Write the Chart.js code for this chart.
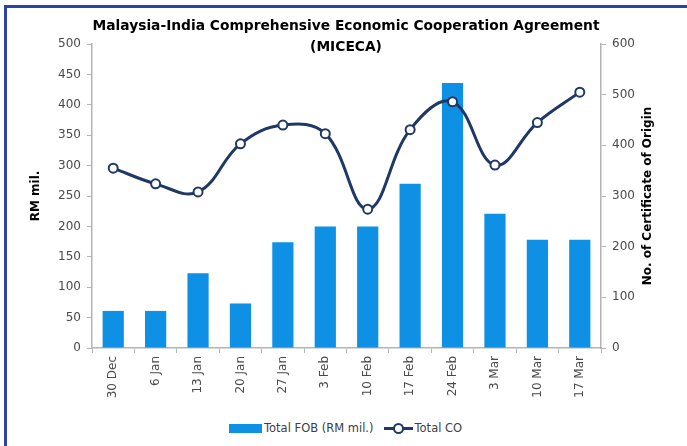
<!DOCTYPE html>
<html lang="en">
<head>
    <meta charset="UTF-8">
    <title>MICECA</title>
    <style>
        body {
            margin: 0;
            background: #fff;
            font-family: "DejaVu Sans", sans-serif;
        }
        .wrap {
            position: relative;
            width: 687px;
            height: 446px;
            overflow: hidden;
        }
        .frame {
            position: absolute;
            left: 4px;
            top: 5px;
            width: 700px;
            height: 460px;
            border-left: 3px solid #2a44a0;
            border-top: 3px solid #2a44a0;
            pointer-events: none;
        }
        #chart {
            position: absolute;
            left: 0;
            top: 0;
        }
        .legend {
            position: absolute;
            left: 229px;
            top: 421px;
            display: flex;
            align-items: center;
            font-size: 11.5px;
            color: #404040;
        }
        .legend .box {
            width: 33px;
            height: 9px;
            background: #0e90e4;
            margin-right: 2px;
        }
        .legend .line {
            position: relative;
            width: 29px;
            height: 3px;
            background: #1f3864;
            margin-left: 10px;
            margin-right: 2px;
        }
        .legend .line span {
            position: absolute;
            left: 9px;
            top: -4px;
            width: 7px;
            height: 7px;
            border: 2px solid #1f3864;
            border-radius: 50%;
            background: #fff;
        }
    </style>
    <script src="https://cdn.jsdelivr.net/npm/chart.js"></script>
</head>
<body>
    <div class="wrap">
        <canvas id="chart" width="687" height="412"></canvas>
        <div class="legend">
            <div class="box"></div><div>Total FOB (RM mil.)</div>
            <div class="line"><span></span></div><div>Total CO</div>
        </div>
        <div class="frame"></div>
    </div>

    <script>
        // data
        const weeks = ['30 Dec', '6 Jan', '13 Jan', '20 Jan', '27 Jan', '3 Feb', '10 Feb', '17 Feb', '24 Feb', '3 Mar', '10 Mar', '17 Mar'];
        const totalFob = [61, 61, 123, 73, 174, 200, 200, 270, 436, 221, 178, 178];
        const totalCo = [355, 324, 308, 403, 440, 423, 274, 431, 486, 361, 445, 505];
        const titleLines = ['Malaysia-India Comprehensive Economic Cooperation Agreement', '(MICECA)'];
        const leftTitle = 'RM mil.';
        const rightTitle = 'No. of Certificate of Origin';

        const tickFont = { family: 'DejaVu Sans', size: 12 };
        const tickColor = '#4a4a4a';
        const axisGrey = '#b4b4b4';

        // title + axis titles drawn by hand so they sit where the original has them
        const textPlugin = {
            id: 'texts',
            afterDraw(chart) {
                const ctx = chart.ctx;
                const area = chart.chartArea;
                ctx.save();
                ctx.fillStyle = '#000';
                ctx.textAlign = 'center';
                ctx.textBaseline = 'middle';
                ctx.font = 'bold 13.8px "DejaVu Sans"';
                ctx.fillText(titleLines[0], 346, 26);
                ctx.fillText(titleLines[1], 346, 47);

                const midY = (area.top + area.bottom) / 2;
                ctx.font = 'bold 12px "DejaVu Sans"';
                ctx.save();
                ctx.translate(36, midY);
                ctx.rotate(-Math.PI / 2);
                ctx.fillText(leftTitle, 0, 0);
                ctx.restore();

                ctx.save();
                ctx.translate(648, midY);
                ctx.rotate(-Math.PI / 2);
                ctx.fillText(rightTitle, 0, 0);
                ctx.restore();
                ctx.restore();
            }
        };

        const ctx = document.getElementById('chart').getContext('2d');
        new Chart(ctx, {
            type: 'bar',
            data: {
                labels: weeks,
                datasets: [{
                    type: 'line',
                    label: 'Total CO',
                    data: totalCo,
                    yAxisID: 'y1',
                    borderColor: '#1f3864',
                    borderWidth: 3,
                    tension: 0.4,
                    pointRadius: 4.5,
                    pointBorderWidth: 2,
                    pointBackgroundColor: '#fff',
                    pointBorderColor: '#1f3864',
                    order: 0
                }, {
                    label: 'Total FOB (RM mil.)',
                    data: totalFob,
                    yAxisID: 'y',
                    backgroundColor: '#0e90e4',
                    barPercentage: 0.5,
                    categoryPercentage: 1,
                    order: 1
                }]
            },
            options: {
                responsive: false,
                animation: false,
                layout: {
                    padding: { top: 44, left: 0, right: 0, bottom: 0 }
                },
                plugins: {
                    legend: { display: false },
                    title: { display: false },
                    tooltip: { enabled: false }
                },
                scales: {
                    x: {
                        afterFit: function(scale) { scale.height = 64; },
                        grid: {
                            drawOnChartArea: false,
                            drawTicks: true,
                            tickLength: 5,
                            color: axisGrey
                        },
                        border: { color: axisGrey, width: 1.5 },
                        ticks: {
                            autoSkip: false,
                            minRotation: 90,
                            maxRotation: 90,
                            color: tickColor,
                            font: tickFont
                        }
                    },
                    y: {
                        position: 'left',
                        min: 0,
                        max: 500,
                        afterFit: function(scale) { scale.width = 92; },
                        grid: {
                            drawOnChartArea: false,
                            tickLength: 5,
                            color: axisGrey
                        },
                        border: { color: axisGrey, width: 1.5 },
                        ticks: {
                            stepSize: 50,
                            padding: 6,
                            color: tickColor,
                            font: tickFont
                        }
                    },
                    y1: {
                        position: 'right',
                        min: 0,
                        max: 600,
                        afterFit: function(scale) { scale.width = 86; },
                        grid: {
                            drawOnChartArea: false,
                            tickLength: 5,
                            color: axisGrey
                        },
                        border: { color: axisGrey, width: 1.5 },
                        ticks: {
                            stepSize: 100,
                            padding: 6,
                            color: tickColor,
                            font: tickFont
                        }
                    }
                }
            },
            plugins: [textPlugin]
        });
    </script>
</body>
</html>
